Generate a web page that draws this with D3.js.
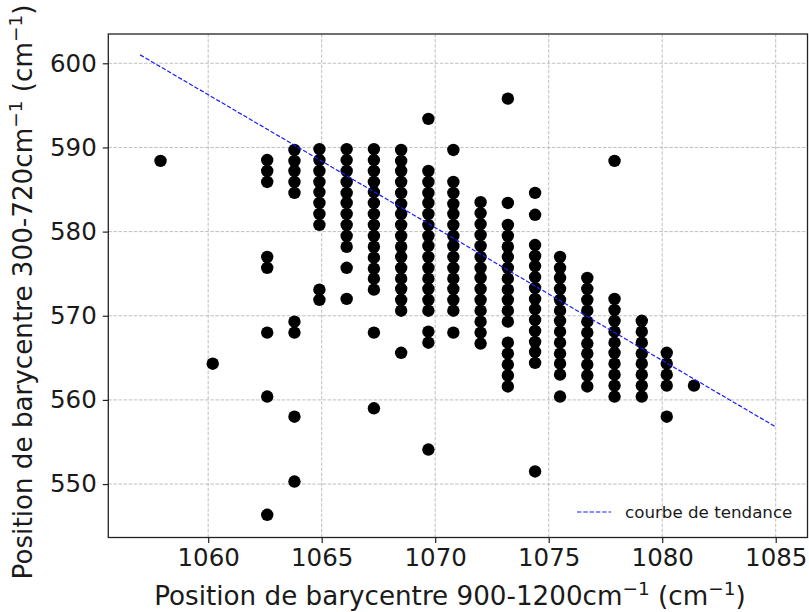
<!DOCTYPE html>
<html>
<head>
<meta charset="utf-8">
<script src="https://cdn.jsdelivr.net/npm/d3@7"></script>
<style>
  html, body { margin: 0; padding: 0; background: #fff; }
  svg text { font-family: "DejaVu Sans", sans-serif; fill: #1a1a1a; }
</style>
</head>
<body>
<svg id="chart" width="809" height="612"></svg>
<script>
// ---- data ----
const columnX = [1057.9, 1060.2, 1062.6, 1063.8, 1064.9, 1066.1, 1067.3, 1068.5, 1069.7, 1070.8,
                 1072.0, 1073.2, 1074.4, 1075.5, 1076.7, 1077.9, 1079.1, 1080.2, 1081.4];
const columnY = [
  [588.4],
  [564.3],
  [588.5, 587.2, 585.9, 577.0, 575.7, 568.0, 560.4, 546.35],
  [589.7, 588.4, 587.2, 585.9, 584.6, 569.3, 568.0, 558.0, 550.3],
  [589.8, 588.5, 587.2, 585.9, 584.7, 583.4, 582.1, 580.8, 573.1, 571.9],
  [589.8, 588.5, 587.2, 585.9, 584.6, 583.4, 582.1, 580.8, 579.5, 578.2, 575.7, 572.0],
  [589.8, 588.5, 587.2, 585.9, 584.7, 583.4, 582.1, 580.8, 579.5, 578.2, 576.9, 575.6, 574.4, 573.1, 568.0, 559.0],
  [589.7, 588.4, 587.2, 585.9, 584.6, 583.3, 582.1, 580.8, 579.5, 578.2, 577.0, 575.7, 574.4, 573.2, 571.9, 570.6, 565.6],
  [593.4, 587.2, 585.9, 584.6, 583.4, 582.1, 580.8, 579.5, 578.3, 577.0, 575.7, 574.4, 573.2, 571.9, 570.6, 568.1, 566.8, 554.1],
  [589.7, 585.9, 584.6, 583.3, 582.1, 580.8, 579.5, 578.3, 577.0, 575.7, 574.4, 573.2, 571.9, 570.6, 568.0],
  [583.5, 582.2, 580.9, 579.6, 578.3, 577.0, 575.7, 574.5, 573.2, 571.9, 570.6, 569.3, 568.0, 566.7],
  [595.8, 583.4, 580.8, 579.5, 578.2, 577.0, 575.7, 574.4, 573.1, 571.9, 570.6, 569.3, 566.8, 565.5, 564.2, 562.9, 561.6],
  [584.6, 582.0, 578.4, 577.1, 575.9, 574.6, 573.3, 572.0, 570.8, 569.5, 568.2, 566.9, 565.7, 564.4, 551.5],
  [577.0, 575.7, 574.5, 573.2, 571.9, 570.6, 569.4, 568.1, 566.8, 565.5, 564.3, 563.0, 560.4],
  [574.5, 573.2, 571.9, 570.6, 569.3, 568.0, 566.7, 565.5, 564.2, 562.9, 561.6],
  [588.4, 572.0, 570.7, 569.4, 568.1, 566.8, 565.6, 564.3, 563.0, 561.7, 560.4],
  [569.4, 568.1, 566.8, 565.5, 564.3, 563.0, 561.7, 560.4],
  [565.6, 564.3, 563.0, 561.7, 558.0],
  [561.7]
];
const trendX = [1057, 1085];
const trendY = [601.0, 556.8];
const xTicks = [1060, 1065, 1070, 1075, 1080, 1085];
const yTicks = [550, 560, 570, 580, 590, 600];
const legendLabel = "courbe de tendance";
const xLabelParts = ["Position de barycentre 900-1200cm", "\u22121", " (cm", "\u22121", ")"];
const yLabelParts = ["Position de barycentre 300-720cm", "\u22121", " (cm", "\u22121", ")"];

// ---- layout ----
const L = 108.3, R = 807.5, T = 34, B = 537.5;
const svg = d3.select("#chart");
svg.append("rect").attr("width", 809).attr("height", 612).attr("fill", "#fff");

const x = d3.scaleLinear().domain([1055.6, 1086.4]).range([L, R]);
const y = d3.scaleLinear().domain([543.65, 603.48]).range([B, T]);

// grid
const grid = svg.append("g");
grid.selectAll("line.gx").data(xTicks).enter().append("line")
  .attr("x1", d => x(d)).attr("x2", d => x(d)).attr("y1", T).attr("y2", B)
  .attr("stroke", "#b8b8b8").attr("stroke-width", 0.9).attr("stroke-dasharray", "3.5,1.6");
grid.selectAll("line.gy").data(yTicks).enter().append("line")
  .attr("y1", d => y(d)).attr("y2", d => y(d)).attr("x1", L).attr("x2", R)
  .attr("stroke", "#b8b8b8").attr("stroke-width", 0.9).attr("stroke-dasharray", "3.5,1.6");

// points
const points = [];
columnX.forEach((cx, i) => columnY[i].forEach(v => points.push([cx, v])));
svg.append("g").selectAll("circle").data(points).enter().append("circle")
  .attr("cx", d => x(d[0])).attr("cy", d => y(d[1])).attr("r", 6.2).attr("fill", "#000");

// trend line
const line = d3.line().x(d => x(d[0])).y(d => y(d[1]));
svg.append("path").datum(trendX.map((v, i) => [v, trendY[i]]))
  .attr("d", line).attr("fill", "none").attr("stroke", "#1a1aff")
  .attr("stroke-width", 1.2).attr("stroke-dasharray", "4.4,1.9");

// axes
const xAxis = d3.axisBottom(x).tickValues(xTicks).tickSize(5.5).tickPadding(6).tickFormat(d3.format("d"));
const yAxis = d3.axisLeft(y).tickValues(yTicks).tickSize(5.5).tickPadding(6).tickFormat(d3.format("d"));
const gx = svg.append("g").attr("transform", `translate(0,${B})`).call(xAxis);
const gy = svg.append("g").attr("transform", `translate(${L},0)`).call(yAxis);
[gx, gy].forEach(g => {
  g.select(".domain").remove();
  g.selectAll(".tick line").attr("stroke", "#222").attr("stroke-width", 1.2);
  g.selectAll(".tick text").attr("font-size", 24.5).attr("font-family", "DejaVu Sans").attr("fill", "#1a1a1a");
});

// frame
svg.append("rect").attr("x", L).attr("y", T).attr("width", R - L).attr("height", B - T)
  .attr("fill", "none").attr("stroke", "#222").attr("stroke-width", 1.3);

// axis labels with superscripts
const FS = 26.2, SFS = 18.5, SH = 10.5;
function labelWithSup(t, parts) {
  parts.forEach((p, i) => {
    const ts = t.append("tspan").text(p);
    if (i % 2 === 1) ts.attr("font-size", SFS).attr("dy", -SH);
    else if (i > 0) ts.attr("dy", SH);
  });
}
const xl = svg.append("text").attr("x", 450).attr("y", 605)
  .attr("text-anchor", "middle").attr("font-size", FS);
labelWithSup(xl, xLabelParts);

const yl = svg.append("text").attr("transform", `translate(32,292) rotate(-90)`)
  .attr("text-anchor", "middle").attr("font-size", FS);
labelWithSup(yl, yLabelParts);

// legend
svg.append("line").attr("x1", 577).attr("x2", 611).attr("y1", 512).attr("y2", 512)
  .attr("stroke", "#1a1aff").attr("stroke-width", 1.2).attr("stroke-dasharray", "4.4,1.9");
svg.append("text").attr("x", 625).attr("y", 517.5).attr("font-size", 16.7).text(legendLabel);
</script>
</body>
</html>
